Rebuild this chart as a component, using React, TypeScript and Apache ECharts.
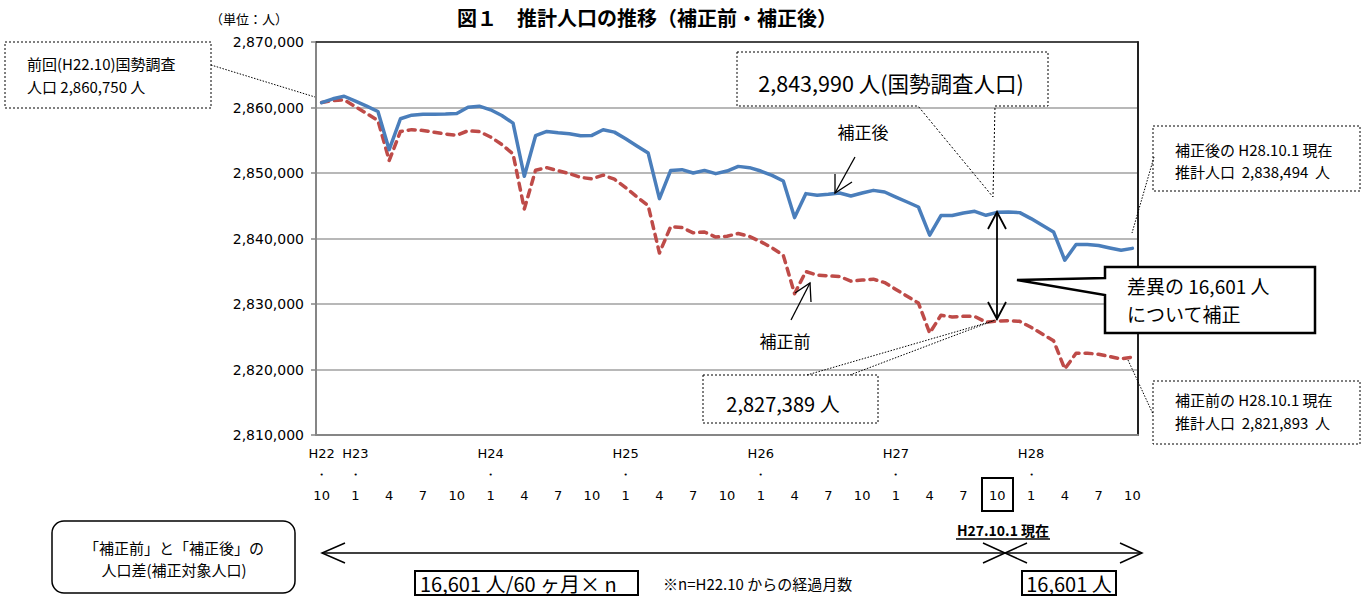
import React, { useEffect, useRef } from "react";
import * as echarts from "echarts";

// Monthly categories H22.10 ... H28.10 (73 months)
const categories: string[] = [];
for (let i = 0; i <= 72; i++) {
  const m = ((9 + i) % 12) + 1;
  const y = 22 + Math.floor((9 + i) / 12);
  categories.push(`H${y}.${m}`);
}

// 補正後 (after correction)
const afterValues = [
  2860750, 2861330, 2861720, 2860960, 2860200, 2859390, 2853560, 2858280, 2858830, 2858980,
  2858980, 2858990, 2859090, 2860050, 2860200, 2859650, 2858780, 2857610, 2849490, 2855690,
  2856350, 2856150, 2856000, 2855690, 2855740, 2856600, 2856240, 2855230, 2854110, 2853040,
  2846090, 2850400, 2850510, 2850000, 2850400, 2849900, 2850300, 2851010, 2850810, 2850300,
  2849640, 2848770, 2843190, 2846850, 2846590, 2846740, 2846940, 2846490, 2846940, 2847350,
  2847100, 2846330, 2845570, 2844810, 2840500, 2843500, 2843510, 2843900, 2844150, 2843540,
  2843990, 2844050, 2843950, 2843040, 2842020, 2841000, 2836680, 2839080, 2839090, 2838930,
  2838560, 2838210, 2838494,
];

// 補正前 (before correction)
const beforeValues = [
  2860750, 2861050, 2861170, 2860130, 2859090, 2858010, 2851900, 2856340, 2856620, 2856490,
  2856210, 2855950, 2855770, 2856450, 2856330, 2855500, 2854350, 2852910, 2844510, 2850430,
  2850820, 2850340, 2849910, 2849330, 2849100, 2849680, 2849050, 2847760, 2846360, 2845020,
  2837790, 2841820, 2841660, 2840870, 2840990, 2840220, 2840340, 2840770, 2840300, 2839510,
  2838570, 2837430, 2831570, 2834950, 2834420, 2834290, 2834210, 2833490, 2833660, 2833790,
  2833270, 2832220, 2831180, 2830150, 2825560, 2828280, 2828020, 2828130, 2828100, 2827220,
  2827389, 2827450, 2827350, 2826440, 2825420, 2824400, 2820080, 2822480, 2822490, 2822330,
  2821960, 2821610, 2821893,
];

const yMin = 2810000;
const yMax = 2870000;
const yStep = 10000;

const JP = '"Noto Sans CJK JP", "Noto Sans CJK SC", sans-serif';
const LAT = '"DejaVu Sans", sans-serif';

const txt = (text: string, x: number, y: number, size: number, opts: any = {}) => ({
  type: "text",
  x,
  y,
  z: 100,
  style: {
    text,
    fontSize: size,
    fontFamily: opts.family || JP,
    fontWeight: opts.weight || "normal",
    fill: "#000",
    align: opts.align || "left",
    verticalAlign: "middle",
    lineHeight: opts.lineHeight,
  },
});

const dotRect = (x: number, y: number, w: number, h: number, fill = "none") => ({
  type: "rect",
  z: 90,
  shape: { x, y, width: w, height: h },
  style: { fill, stroke: "#000", lineWidth: 1, lineDash: [2, 2] },
});

const solidRect = (x: number, y: number, w: number, h: number, lw = 1.5, r = 0) => ({
  type: "rect",
  z: 90,
  shape: { x, y, width: w, height: h, r },
  style: { fill: "#fff", stroke: "#000", lineWidth: lw },
});

const pline = (points: number[][], lw = 1.5, dash: number[] | null = null) => ({
  type: "polyline",
  z: 95,
  shape: { points },
  style: { fill: "none", stroke: "#000", lineWidth: lw, lineDash: dash || undefined },
});

export default function App() {
  const ref = useRef<HTMLDivElement>(null);

  useEffect(() => {
    if (!ref.current) return;
    const chart = echarts.init(ref.current, null, { renderer: "svg" });

    const graphic: any[] = [
      // Title
      txt("図１　推計人口の推移（補正前・補正後）", 647, 17, 20, { weight: "bold", align: "center" }),
      txt("（単位：人）", 210, 18, 13),

      // Top-left dotted box
      dotRect(5, 42, 206, 66),
      txt("前回(H22.10)国勢調査\n人口 2,860,750 人", 27, 75, 15, { lineHeight: 23 }),
      pline([[211, 65], [315, 97]], 1, [1.5, 1.5]),

      // 2,843,990 callout
      {
        type: "polygon",
        z: 90,
        shape: { points: [[737, 52], [1048, 52], [1048, 106], [995, 106], [993, 197], [918, 106], [737, 106]] },
        style: { fill: "none", stroke: "#000", lineWidth: 1, lineDash: [2, 2] },
      },
      txt("2,843,990 人(国勢調査人口)", 891, 82, 21.5, { align: "center" }),

      // 補正後 label + arrow
      txt("補正後", 863, 131, 17, { align: "center" }),
      pline([[855, 157], [835, 193]], 1.3),
      pline([[835, 174], [835, 193], [852, 182]], 1.3),

      // 補正前 label + arrow
      txt("補正前", 785, 340, 17, { align: "center" }),
      pline([[791, 320], [810, 283]], 1.3),
      pline([[795, 293], [810, 283], [811, 302]], 1.3),

      // vertical double arrow
      pline([[997, 212], [997, 319]], 1.8),
      pline([[988, 229], [997, 212], [1006, 229]], 1.8),
      pline([[988, 302], [997, 319], [1006, 302]], 1.8),

      // 差異 callout
      {
        type: "polygon",
        z: 92,
        shape: { points: [[1105, 267], [1315, 267], [1315, 333], [1105, 333], [1105, 295], [1017, 280], [1105, 278]] },
        style: { fill: "#fff", stroke: "#000", lineWidth: 2.5 },
      },
      txt("差異の 16,601 人\nについて補正", 1127, 299, 19, { lineHeight: 28 }),

      // Right dotted boxes
      dotRect(1153, 126, 207, 65),
      txt("補正後の H28.10.1 現在\n推計人口  2,838,494  人", 1175, 160, 15, { lineHeight: 22 }),
      pline([[1154, 157], [1132, 233]], 1, [1.5, 1.5]),
      dotRect(1153, 381, 207, 63),
      txt("補正前の H28.10.1 現在\n推計人口  2,821,893  人", 1175, 411, 15, { lineHeight: 23 }),
      pline([[1128, 360], [1153, 414]], 1, [1.5, 1.5]),

      // 2,827,389 callout
      dotRect(703, 375, 175, 48, "#fff"),
      pline([[807, 375], [993, 321]], 1, [1.5, 1.5]),
      pline([[850, 375], [998, 319]], 1, [1.5, 1.5]),
      txt("2,827,389 人", 783, 403, 20, { align: "center" }),

      // boxed "10" on axis
      {
        type: "rect",
        z: 90,
        shape: { x: 982, y: 478, width: 31, height: 33 },
        style: { fill: "none", stroke: "#000", lineWidth: 2 },
      },
      txt("H27.10.1 現在", 1003, 530, 14, { weight: "bold", align: "center" }),
      pline([[956, 539], [1050, 539]], 1.3),

      // Bottom arrows
      pline([[322, 553], [1142, 553]], 1.5),
      pline([[345, 543], [322, 553], [345, 563]], 1.5),
      pline([[983, 543], [1005, 553], [983, 563]], 1.5),
      pline([[1027, 543], [1005, 553], [1027, 563]], 1.5),
      pline([[1120, 543], [1142, 553], [1120, 563]], 1.5),

      // Bottom-left rounded box
      solidRect(52, 521, 243, 72, 1.5, 12),
      txt("「補正前」と「補正後」の\n人口差(補正対象人口)", 174, 558, 15, { align: "center", lineHeight: 22 }),

      solidRect(415, 571, 223, 24, 2),
      txt("16,601 人/60 ヶ月× n", 420, 583, 20),
      txt("※n=H22.10 からの経過月数", 663, 583, 15),
      solidRect(1022, 571, 94, 24, 2),
      txt("16,601 人", 1069, 583, 20, { align: "center" }),
    ];

    chart.setOption({
      animation: false,
      backgroundColor: "#fff",
      grid: { left: 316, right: 229, top: 42, bottom: 162, containLabel: false },
      xAxis: [
        {
          type: "category",
          data: categories,
          boundaryGap: true,
          axisLine: { show: true, lineStyle: { color: "#868686", width: 2 } },
          axisTick: { show: false },
          axisLabel: {
            interval: 0,
            margin: 8,
            lineHeight: 21,
            fontSize: 13,
            fontFamily: LAT,
            color: "#000",
            formatter: (v: string, idx: number) => {
              if (idx % 3 !== 0) return "";
              const [yy, mm] = v.split(".");
              if (mm === "1" || idx === 0) return `${yy}\n・\n${mm}`;
              return ` \n \n${mm}`;
            },
          },
          splitLine: { show: false },
        },
        {
          type: "category",
          data: categories,
          position: "top",
          boundaryGap: true,
          axisLine: { show: true, lineStyle: { color: "#222", width: 1.5 } },
          axisTick: { show: false },
          axisLabel: { show: false },
        },
      ],
      yAxis: [
        {
          type: "value",
          min: yMin,
          max: yMax,
          interval: yStep,
          axisLine: { show: true, lineStyle: { color: "#868686", width: 2 } },
          axisTick: { show: true, length: 5, lineStyle: { color: "#868686", width: 1.5 } },
          axisLabel: {
            margin: 12,
            fontSize: 14,
            fontFamily: LAT,
            color: "#000",
            formatter: (v: number) => v.toLocaleString("en-US"),
          },
          splitLine: { show: true, lineStyle: { color: "#a0a0a0", width: 1.5 } },
        },
        {
          type: "value",
          min: yMin,
          max: yMax,
          interval: yStep,
          position: "right",
          axisLine: { show: true, lineStyle: { color: "#222", width: 2 } },
          axisTick: { show: false },
          axisLabel: { show: false },
          splitLine: { show: false },
        },
      ],
      series: [
        {
          type: "line",
          name: "補正前",
          data: beforeValues,
          symbol: "none",
          z: 3,
          lineStyle: { color: "#BE4B48", width: 3.5, type: [7, 6], cap: "round", join: "round" },
        },
        {
          type: "line",
          name: "補正後",
          data: afterValues,
          symbol: "none",
          z: 4,
          lineStyle: { color: "#4A7EBB", width: 3.5, cap: "round", join: "round" },
        },
      ],
      graphic,
    });

    return () => chart.dispose();
  }, []);

  return (
    <div
      ref={ref}
      style={{ position: "absolute", left: 0, top: 0, width: 1367, height: 597, background: "#fff" }}
    />
  );
}
